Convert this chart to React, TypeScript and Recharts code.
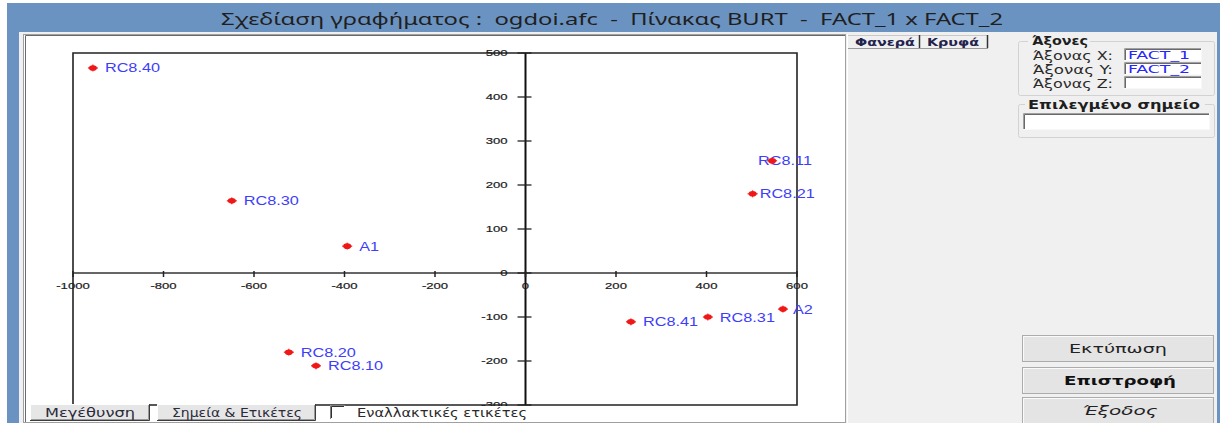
import React from 'react';
import { ScatterChart, Scatter, XAxis, YAxis, ReferenceLine, ReferenceArea } from 'recharts';

// ---- data ----
const pointNames = ['RC8.40', 'RC8.30', 'A1', 'RC8.11', 'RC8.21', 'A2', 'RC8.31', 'RC8.41', 'RC8.20', 'RC8.10'];
const fact1 = [-956, -649, -394, 545, 502, 569, 403, 233, -523, -463];
const fact2 = [466, 164, 61, 255, 180, -82, -100, -111, -180, -211];
const xTickValues = [-1000, -800, -600, -400, -200, 0, 200, 400, 600];
const yTickValues = [500, 400, 300, 200, 100, 0, -100, -200, -300];
const xDomain: [number, number] = [-1000, 600];
const yDomain: [number, number] = [-300, 500];

const points = pointNames.map((name, i) => ({ name, x: fact1[i], y: fact2[i] }));
const xTickData = xTickValues.map((v) => ({ x: v, y: 0 }));
const yTickData = yTickValues.map((v) => ({ x: 0, y: v }));

// label placement tweaks (style only)
const labelDx: Record<string, number> = { 'RC8.11': -14, 'RC8.21': 7, A2: 10 };

const ARIAL = 'Liberation Sans, Arial, sans-serif';
const UI = 'DejaVu Sans, Verdana, sans-serif';

const PointShape = (p: any) => {
  const { cx, cy, payload } = p;
  const dx = labelDx[payload.name] ?? 12;
  return (
    <g>
      <text
        transform={`translate(${cx + dx},${cy + 4.5}) scale(1.3,1)`}
        fontSize={12.5}
        fontFamily={ARIAL}
        fill="#3d3dfa"
      >
        {payload.name}
      </text>
      <ellipse cx={cx} cy={cy} rx={4} ry={2.8} fill="#f01818" />
      <line x1={cx - 5} y1={cy} x2={cx + 5} y2={cy} stroke="#f01818" strokeWidth={1.2} />
      <line x1={cx} y1={cy - 3.5} x2={cx} y2={cy + 3.5} stroke="#f01818" strokeWidth={1} />
    </g>
  );
};

const XTickShape = (p: any) => {
  const { cx, cy, payload } = p;
  return (
    <g>
      <line x1={cx} y1={cy - 2} x2={cx} y2={cy + 4} stroke="#222" strokeWidth={1.5} />
      <text
        transform={`translate(${cx},${cy + 15.5}) scale(1.38,1)`}
        textAnchor="middle"
        fontSize={9.5}
        fontFamily={ARIAL}
        fill="#1c1c1c"
        stroke="#1c1c1c"
        strokeWidth={0.2}
      >
        {payload.x}
      </text>
    </g>
  );
};

const YTickShape = (p: any) => {
  const { cx, cy, payload } = p;
  return (
    <g>
      <line x1={cx - 8} y1={cy} x2={cx + 6} y2={cy} stroke="#222" strokeWidth={1.3} />
      <text
        transform={`translate(${cx - 18},${cy + 3.4}) scale(1.38,1)`}
        textAnchor="end"
        fontSize={9.5}
        fontFamily={ARIAL}
        fill="#1c1c1c"
        stroke="#1c1c1c"
        strokeWidth={0.2}
      >
        {payload.y}
      </text>
    </g>
  );
};

type TP = {
  x: number;
  y: number;
  w: number;
  s?: number;
  anchor?: 'start' | 'middle' | 'end';
  weight?: string;
  color?: string;
  italic?: boolean;
  family?: string;
  children: React.ReactNode;
};
const T = ({ x, y, w, s = 11, anchor = 'start', weight = 'normal', color = '#1e1e1e', italic = false, family = UI, children }: TP) => (
  <text
    x={x}
    y={y}
    fontSize={s}
    textAnchor={anchor}
    fontWeight={weight}
    fontStyle={italic ? 'italic' : 'normal'}
    fill={color}
    fontFamily={family}
    textLength={w}
    lengthAdjust="spacingAndGlyphs"
    style={{ whiteSpace: 'pre' }}
  >
    {children}
  </text>
);

const Sunken = ({ x, y, w, h }: { x: number; y: number; w: number; h: number }) => (
  <g>
    <rect x={x} y={y} width={w} height={h} fill="#fff" />
    <path d={`M${x + 0.5} ${y + h} V${y + 0.5} H${x + w}`} stroke="#a0a0a0" fill="none" />
    <path d={`M${x + 1.5} ${y + h - 1} V${y + 1.5} H${x + w - 1}`} stroke="#696969" fill="none" />
    <path d={`M${x} ${y + h - 0.5} H${x + w - 0.5} V${y}`} stroke="#f8f8f8" fill="none" />
  </g>
);

const Button = ({ x, y, w, h }: { x: number; y: number; w: number; h: number }) => (
  <g>
    <rect x={x + 0.5} y={y + 0.5} width={w - 1} height={h - 1} fill="#e4e4e4" stroke="#acacac" />
    <path d={`M${x + 1.5} ${y + h - 1.5} V${y + 1.5} H${x + w - 1.5}`} stroke="#fafafa" fill="none" />
  </g>
);

const RaisedButton = ({ x, y, w, h }: { x: number; y: number; w: number; h: number }) => (
  <g>
    <rect x={x} y={y} width={w} height={h} fill="#e6e6e6" />
    <path d={`M${x + 0.5} ${y + h} V${y + 0.5} H${x + w}`} stroke="#ffffff" fill="none" />
    <path d={`M${x} ${y + h - 0.5} H${x + w - 0.5} V${y}`} stroke="#3c3c3c" fill="none" />
    <path d={`M${x + 1} ${y + h - 1.5} H${x + w - 1.5} V${y + 1}`} stroke="#9a9a9a" fill="none" />
  </g>
);

export default function App() {
  return (
    <div style={{ position: 'absolute', left: 0, top: 0, width: 1220, height: 423, overflow: 'hidden', background: '#fff' }}>
      <svg width={1220} height={423} style={{ position: 'absolute', left: 0, top: 0 }}>
        <rect x={0} y={0} width={1220} height={423} fill="#ffffff" />
        <rect x={7} y={3} width={1213} height={420} fill="#6b93c1" />
        <T x={612} y={25} w={782} s={16} anchor="middle" color="#1f1f1f" family="Noto Sans, sans-serif">
          {'Σχεδίαση γραφήματος :  ogdoi.afc  -  Πίνακας BURT  -  FACT_1 x FACT_2'}
        </T>
        <rect x={19} y={32} width={1198} height={391} fill="#f0f0f0" />
        {/* chart panel */}
        <rect x={23.5} y={34.5} width={822} height={388} fill="#fff" stroke="#a0a0a0" />
        <path d="M25.5 422 V35.5 H845" stroke="#6a6a6a" fill="none" />
        <line x1={847.5} y1={34} x2={847.5} y2={423} stroke="#ffffff" />

        {/* tab buttons */}
        <rect x={848} y={35} width={140} height={13} fill="#f0f0f0" />
        <line x1={848} y1={35.5} x2={988} y2={35.5} stroke="#c8c8c8" />
        <line x1={919.5} y1={35} x2={919.5} y2={48} stroke="#333" strokeWidth={1.5} />
        <line x1={987.5} y1={35} x2={987.5} y2={48} stroke="#333" strokeWidth={1.5} />
        <line x1={848} y1={48.5} x2={988} y2={48.5} stroke="#9a9a9a" />
        <T x={885} y={46} w={60} s={11} anchor="middle" weight="bold" color="#22224c">
          Φανερά
        </T>
        <T x={953} y={46} w={52} s={11} anchor="middle" weight="bold" color="#22224c">
          Κρυφά
        </T>

        {/* group Άξονες */}
        <rect x={1018.5} y={41.5} width={196} height={54} rx={2} fill="none" stroke="#d2d2d2" />
        <rect x={1028} y={35} width={62} height={12} fill="#f0f0f0" />
        <T x={1032} y={45} w={56} s={11.5} weight="bold" color="#1e1e1e">
          Άξονες
        </T>
        <T x={1033} y={59.5} w={80} s={11.5} color="#2a2a2a">
          Άξονας X:
        </T>
        <T x={1033} y={73.5} w={80} s={11.5} color="#2a2a2a">
          Άξονας Y:
        </T>
        <T x={1033} y={87.5} w={80} s={11.5} color="#2a2a2a">
          Άξονας Z:
        </T>
        <Sunken x={1124} y={48} w={78} h={13} />
        <Sunken x={1124} y={62} w={78} h={13} />
        <Sunken x={1124} y={76} w={78} h={13} />
        <T x={1128} y={59} w={62} s={11} color="#2525ff">
          FACT_1
        </T>
        <T x={1128} y={73} w={62} s={11} color="#2525ff">
          FACT_2
        </T>

        {/* group Επιλεγμένο σημείο */}
        <rect x={1018.5} y={104.5} width={196} height={33} rx={2} fill="none" stroke="#d2d2d2" />
        <rect x={1025} y={98} width={180} height={12} fill="#f0f0f0" />
        <T x={1028} y={109} w={172} s={11.5} weight="bold" color="#1e1e1e">
          Επιλεγμένο σημείο
        </T>
        <Sunken x={1023} y={113} w={187} h={17} />

        {/* right buttons */}
        <Button x={1022} y={335} w={192} h={27} />
        <Button x={1022} y={367} w={192} h={27} />
        <Button x={1022} y={397} w={192} h={28} />
        <T x={1118} y={353} w={98} s={12.5} anchor="middle" color="#222">
          Εκτύπωση
        </T>
        <T x={1120} y={384.5} w={112} s={12.5} anchor="middle" weight="bold" color="#111">
          Επιστροφή
        </T>
        <T x={1120} y={414.5} w={75} s={12.5} anchor="middle" italic color="#222">
          Έξοδος
        </T>
      </svg>

      <div style={{ position: 'absolute', left: 0, top: 0 }}>
        <ScatterChart width={845} height={423} margin={{ top: 53, right: 48, bottom: 18, left: 73 }}>
          <XAxis type="number" dataKey="x" domain={xDomain} ticks={xTickValues} tickCount={9} hide />
          <YAxis type="number" dataKey="y" domain={yDomain} ticks={yTickValues} tickCount={9} hide />
          <ReferenceArea x1={xDomain[0]} x2={xDomain[1]} y1={yDomain[0]} y2={yDomain[1]} fill="none" stroke="#222" strokeWidth={1.6} />
          <ReferenceLine y={0} stroke="#333" strokeWidth={1.5} />
          <ReferenceLine x={0} stroke="#111" strokeWidth={2} />
          <Scatter data={xTickData} shape={XTickShape} isAnimationActive={false} />
          <Scatter data={yTickData} shape={YTickShape} isAnimationActive={false} />
          <Scatter data={points} shape={PointShape} isAnimationActive={false} />
        </ScatterChart>
      </div>

      <svg width={1220} height={423} style={{ position: 'absolute', left: 0, top: 0, pointerEvents: 'none' }}>
        <rect x={27} y={406} width={818} height={16} fill="#ffffff" />
        <RaisedButton x={30} y={404} w={120} h={17} />
        <T x={90} y={416.5} w={90} s={11.5} anchor="middle" color="#2a2a3a">
          Μεγέθυνση
        </T>
        <RaisedButton x={157} y={404} w={159} h={17} />
        <T x={237} y={416.5} w={130} s={11.5} anchor="middle" color="#2a2a3a">
          Σημεία &amp; Ετικέτες
        </T>
        <rect x={330} y={405} width={15} height={14} fill="#fff" />
        <path d="M330.5 419 V405.5 H345" stroke="#808080" fill="none" />
        <path d="M331.5 418 V406.5 H344" stroke="#303030" fill="none" />
        <T x={357} y={416.5} w={170} s={11.5} color="#2a2a2a">
          Εναλλακτικές ετικέτες
        </T>
      </svg>
    </div>
  );
}
